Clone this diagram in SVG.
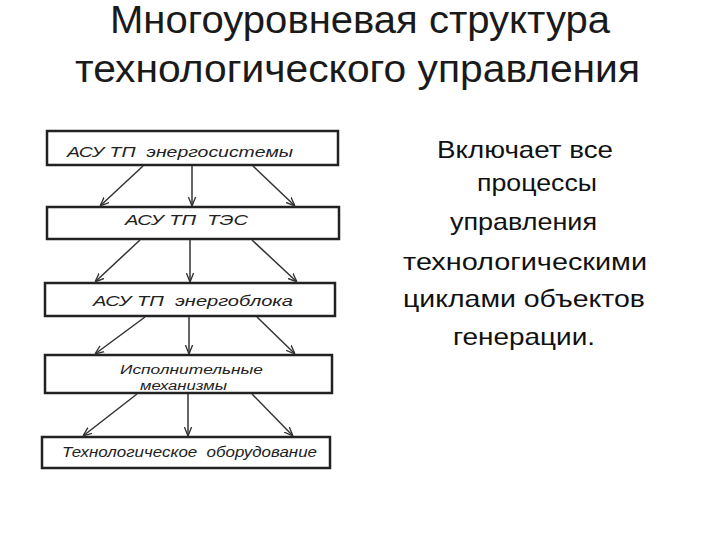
<svg xmlns="http://www.w3.org/2000/svg" width="720" height="540" viewBox="0 0 720 540">
<style>
.title{font-family:"Liberation Sans",Arial,sans-serif;font-size:38px;fill:#1a1a1a}
.side{font-family:"Liberation Sans",Arial,sans-serif;font-size:24px;fill:#111}
.box{fill:#fff;stroke:#222;stroke-width:2.5}
.lbl{font-family:"Liberation Sans",Arial,sans-serif;font-style:italic;font-size:15px;fill:#222;white-space:pre}
.sm{font-size:12.5px}
.con line{stroke:#333;stroke-width:1.5}
</style>
<defs>
<marker id="ah" viewBox="0 0 10 10" refX="10" refY="5" markerWidth="9" markerHeight="9" orient="auto" markerUnits="userSpaceOnUse">
<path d="M0,1 L10,5 L0,9" fill="none" stroke="#333" stroke-width="1.5"/>
</marker>
</defs>
<rect width="720" height="540" fill="#fff"/>
<g id="title">
<text class="title" x="110" y="33" textLength="500" lengthAdjust="spacingAndGlyphs">Многоуровневая структура</text>
<text class="title" x="75" y="82" textLength="565" lengthAdjust="spacingAndGlyphs">технологического управления</text>
</g>
<g id="side-text">
<text class="side" x="437" y="158" textLength="176" lengthAdjust="spacingAndGlyphs">Включает все</text>
<text class="side" x="477" y="191" textLength="120" lengthAdjust="spacingAndGlyphs">процессы</text>
<text class="side" x="450" y="230" textLength="147" lengthAdjust="spacingAndGlyphs">управления</text>
<text class="side" x="403" y="270" textLength="244" lengthAdjust="spacingAndGlyphs">технологическими</text>
<text class="side" x="403" y="307" textLength="242" lengthAdjust="spacingAndGlyphs">циклами объектов</text>
<text class="side" x="453" y="345" textLength="142" lengthAdjust="spacingAndGlyphs">генерации.</text>
</g>
<g id="n1"><rect class="box" x="47" y="131" width="291" height="34"/><text class="lbl" x="67" y="157" textLength="226" lengthAdjust="spacingAndGlyphs">АСУ ТП  энергосистемы</text></g>
<g id="n2"><rect class="box" x="47" y="207" width="292" height="32"/><text class="lbl" x="125" y="225" textLength="123" lengthAdjust="spacingAndGlyphs">АСУ ТП  ТЭС</text></g>
<g id="n3"><rect class="box" x="45" y="283" width="290" height="33"/><text class="lbl" x="93" y="306" textLength="200" lengthAdjust="spacingAndGlyphs">АСУ ТП  энергоблока</text></g>
<g id="n4"><rect class="box" x="45" y="355" width="287" height="38"/><text class="lbl sm" x="120" y="374" textLength="143" lengthAdjust="spacingAndGlyphs">Исполнительные</text><text class="lbl sm" x="140" y="390" textLength="87" lengthAdjust="spacingAndGlyphs">механизмы</text></g>
<g id="n5"><rect class="box" x="42" y="437" width="288" height="31"/><text class="lbl" x="62" y="457" textLength="255" lengthAdjust="spacingAndGlyphs">Технологическое  оборудование</text></g>
<g class="con" id="connectors">
<line x1="143" y1="166" x2="100" y2="206" marker-end="url(#ah)"/>
<line x1="192" y1="166" x2="192" y2="206" marker-end="url(#ah)"/>
<line x1="253" y1="166" x2="295" y2="206" marker-end="url(#ah)"/>
<line x1="140" y1="240" x2="95" y2="282" marker-end="url(#ah)"/>
<line x1="190" y1="240" x2="190" y2="282" marker-end="url(#ah)"/>
<line x1="252" y1="240" x2="297" y2="282" marker-end="url(#ah)"/>
<line x1="145" y1="317" x2="95" y2="354" marker-end="url(#ah)"/>
<line x1="189" y1="317" x2="189" y2="354" marker-end="url(#ah)"/>
<line x1="257" y1="317" x2="295" y2="354" marker-end="url(#ah)"/>
<line x1="137" y1="394" x2="83" y2="436" marker-end="url(#ah)"/>
<line x1="188" y1="394" x2="188" y2="436" marker-end="url(#ah)"/>
<line x1="252" y1="394" x2="293" y2="436" marker-end="url(#ah)"/>
</g>
</svg>
